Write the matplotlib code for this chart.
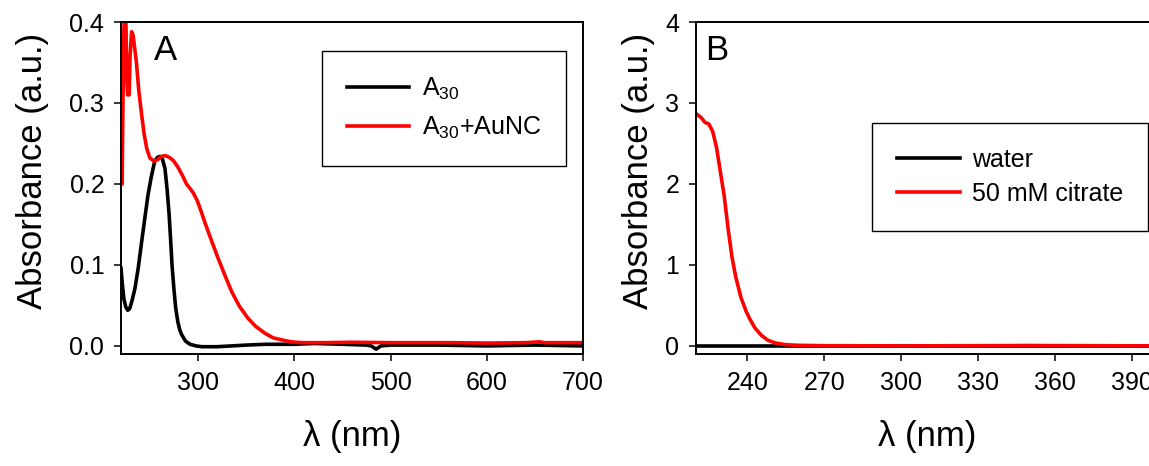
import numpy as np
import matplotlib
matplotlib.use('Agg')
import matplotlib.pyplot as plt

plt.rcParams['font.family'] = ['Liberation Sans', 'DejaVu Sans']
plt.rcParams['mathtext.fontset'] = 'custom'
plt.rcParams['mathtext.rm'] = 'Liberation Sans'
plt.rcParams['mathtext.it'] = 'Liberation Sans'
plt.rcParams['mathtext.default'] = 'regular'

# panel A: A30 (black)
wl_a30 = [220, 221.5, 223, 225, 227, 229, 231.5, 234.5, 238, 241.5, 245, 248, 251.5, 255,
          258, 260.5, 263, 265.7, 268, 270, 271.5, 273, 275, 276.8, 279, 281, 283, 287,
          291.7, 298, 304, 320, 335, 350, 370, 400, 421, 450, 475, 480, 485, 490, 500,
          550, 600, 650, 700]
abs_a30 = [0.096, 0.075, 0.058, 0.048, 0.044, 0.046, 0.056, 0.071, 0.097, 0.129, 0.160, 0.186,
           0.209, 0.228, 0.233, 0.234, 0.231, 0.219, 0.192, 0.162, 0.132, 0.100, 0.070, 0.047,
           0.030, 0.020, 0.014, 0.006, 0.002, 0.000, -0.001, -0.001, 0.000, 0.001, 0.002, 0.002,
           0.003, 0.002, 0.001, 0.000, -0.004, 0.000, 0.001, 0.001, 0.000, 0.001, 0.000]

# panel A: A30+AuNC (red)
wl_aunc = [220, 220.5, 221.2, 222, 223, 224, 225, 226, 226.8, 228.5, 229.5, 231, 232.5, 234,
           236, 238.5, 241.5, 244, 246.7, 250, 254.6, 258, 262, 266, 270, 274.3, 279, 284,
           288, 292, 295, 299, 303, 307, 314, 321, 328, 335, 343, 352, 360, 369.5, 378, 387,
           397, 408, 430, 460, 500, 560, 600, 640, 655, 660, 700]
abs_aunc = [0.254, 0.288, 0.200, 0.300, 0.390, 0.420, 0.410, 0.330, 0.310, 0.310, 0.360, 0.388,
            0.384, 0.370, 0.350, 0.315, 0.285, 0.262, 0.244, 0.232, 0.228, 0.230, 0.234, 0.235,
            0.233, 0.229, 0.221, 0.210, 0.200, 0.194, 0.189, 0.180, 0.167, 0.153, 0.130, 0.108,
            0.087, 0.067, 0.049, 0.034, 0.024, 0.0157, 0.010, 0.0074, 0.005, 0.004, 0.004,
            0.0045, 0.004, 0.004, 0.0035, 0.004, 0.005, 0.004, 0.004]

# panel B: water (black) and 50 mM citrate (red)
wl_water = [220, 260, 300, 350, 400]
abs_water = [0.0, 0.0, 0.0, 0.0, 0.0]

wl_cit = [220, 222, 223.5, 225, 226.5, 228, 229.5, 231, 232.5, 234, 235.5, 237.5, 239.5, 241,
          243, 245.5, 248, 251, 255, 260, 270, 300, 350, 400]
abs_cit = [2.87, 2.82, 2.76, 2.74, 2.65, 2.45, 2.15, 1.85, 1.45, 1.10, 0.85, 0.60, 0.43, 0.33,
           0.22, 0.13, 0.07, 0.035, 0.015, 0.007, 0.003, 0.0, 0.005, 0.0]

xticks_a = [300, 400, 500, 600, 700]
yticks_a = [0.0, 0.1, 0.2, 0.3, 0.4]
xticks_b = [240, 270, 300, 330, 360, 390]
yticks_b = [0, 1, 2, 3, 4]

fig = plt.figure(figsize=(11.49, 4.66), dpi=100)
axA = fig.add_axes([121/1149, 112/466, 462/1149, 332/466])
axB = fig.add_axes([696/1149, 112/466, 462/1149, 332/466])

lw = 2.6
axA.plot(wl_a30, abs_a30, color='black', lw=lw, label='A$_{30}$')
axA.plot(wl_aunc, abs_aunc, color='#ff0000', lw=lw, label='A$_{30}$+AuNC')
axA.set_xlim(220, 700)
axA.set_ylim(-0.01, 0.4)
axA.set_xticks(xticks_a)
axA.set_yticks(yticks_a)
axA.set_yticklabels(['%.1f' % v for v in yticks_a])

axB.plot(wl_water, abs_water, color='black', lw=lw, label='water')
axB.plot(wl_cit, abs_cit, color='#ff0000', lw=lw, label='50 mM citrate')
axB.set_xlim(220, 400)
axB.set_ylim(-0.1, 4)
axB.set_xticks(xticks_b)
axB.set_yticks(yticks_b)

for ax in (axA, axB):
    for sp in ax.spines.values():
        sp.set_linewidth(1.4)
    ax.tick_params(direction='out', length=5, width=1.1, labelsize=18, pad=7)
    ax.set_xlabel('λ (nm)', fontsize=25)
    ax.set_ylabel('Absorbance (a.u.)', fontsize=25)
    ax.xaxis.set_label_coords(0.5, -0.2)

axA.yaxis.set_label_coords(-0.155, 0.55)
axB.yaxis.set_label_coords(-0.088, 0.55)

axA.text(0.071, 0.886, 'A', transform=axA.transAxes, fontsize=25, va='baseline')
axB.text(0.02, 0.886, 'B', transform=axB.transAxes, fontsize=25, va='baseline')

legA = axA.legend(loc='upper left', bbox_to_anchor=(0.435, 0.913), fontsize=18,
                  frameon=True, fancybox=False, edgecolor='black', framealpha=1,
                  handlelength=2.5, handletextpad=0.5, borderpad=1.0, labelspacing=0.5,
                  borderaxespad=0)
legA.get_frame().set_linewidth(1.0)
legB = axB.legend(loc='upper left', bbox_to_anchor=(0.381, 0.696), fontsize=18,
                  frameon=True, fancybox=False, edgecolor='black', framealpha=1,
                  handlelength=2.5, handletextpad=0.5, borderpad=1.0, labelspacing=0.4,
                  borderaxespad=0)
legB.get_frame().set_linewidth(1.0)

fig.savefig('out.png', dpi=100)
